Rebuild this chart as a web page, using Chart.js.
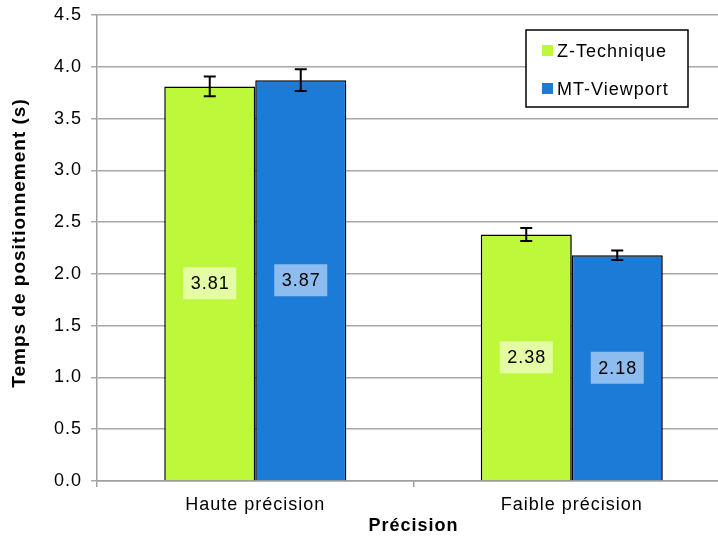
<!DOCTYPE html>
<html><head><meta charset="utf-8">
<script src="https://cdn.jsdelivr.net/npm/chart.js@4/dist/chart.umd.min.js"></script>
<style>html,body{margin:0;padding:0;overflow:hidden;background:#fff}#wrap{width:735px;height:541px}</style>
</head><body><div id="wrap"><canvas id="c" width="735" height="541"></canvas></div>
<script>
const categories = ["Haute précision", "Faible précision"];
const seriesNames = ["Z-Technique", "MT-Viewport"];
const zTechnique = [3.81, 2.38];
const mtViewport = [3.87, 2.18];
const zErr = [0.095, 0.062];
const mtErr = [0.105, 0.045];
const yTicks = [0, 0.5, 1, 1.5, 2, 2.5, 3, 3.5, 4, 4.5];
const yTitle = "Temps de positionnement (s)";
const colors = ["#bef83a", "#1d7bd8"];
const labelBg = ["#e4fca4", "#8dbcef"];
const errs = [zErr, mtErr];
const FONT = "'Liberation Sans', Arial, sans-serif";

const spacing = {
  id: 'spacing',
  beforeUpdate(c) { c.ctx.letterSpacing = '1px'; },
  beforeDraw(c) { c.ctx.letterSpacing = '1px'; }
};

const barExtras = {
  id: 'barExtras',
  beforeDatasetsDraw(chart) {
    const ctx = chart.ctx; ctx.save();
    ctx.shadowColor = 'rgba(0,0,0,0.25)'; ctx.shadowBlur = 4; ctx.shadowOffsetX = 2; ctx.shadowOffsetY = 2;
  },
  afterDatasetsDraw(chart) {
    const ctx = chart.ctx; ctx.restore();
    const y = chart.scales.y;
    ctx.save();
    chart.data.datasets.forEach((ds, di) => {
      const meta = chart.getDatasetMeta(di);
      meta.data.forEach((bar, i) => {
        const v = ds.data[i], e = errs[di][i];
        const yt = y.getPixelForValue(v + e), yb = y.getPixelForValue(v - e);
        ctx.strokeStyle = '#000'; ctx.lineWidth = 2;
        ctx.beginPath();
        ctx.moveTo(bar.x, yt); ctx.lineTo(bar.x, yb);
        ctx.moveTo(bar.x - 6, yt); ctx.lineTo(bar.x + 6, yt);
        ctx.moveTo(bar.x - 6, yb); ctx.lineTo(bar.x + 6, yb);
        ctx.stroke();
        const cy = (bar.y + bar.base) / 2;
        ctx.fillStyle = labelBg[di];
        ctx.fillRect(bar.x - 26.5, cy - 16, 53, 32);
        ctx.fillStyle = '#000'; ctx.font = '18px ' + FONT;
        ctx.textAlign = 'center'; ctx.textBaseline = 'middle';
        ctx.fillText(v.toFixed(2), bar.x + 0.5, cy + 1);
      });
    });
    const lx = 526, ly = 30, lw = 162, lh = 77;
    ctx.fillStyle = '#fff'; ctx.fillRect(lx, ly, lw, lh);
    ctx.strokeStyle = '#000'; ctx.lineWidth = 1.5; ctx.strokeRect(lx, ly, lw, lh);
    ctx.font = '18px ' + FONT; ctx.textAlign = 'left'; ctx.textBaseline = 'middle';
    chart.data.datasets.forEach((ds, di) => {
      const yy = ly + 22 + di * 38;
      ctx.fillStyle = ds.backgroundColor;
      ctx.fillRect(lx + 16, yy - 7, 11, 11);
      ctx.fillStyle = '#000';
      ctx.fillText(ds.label, lx + 31, yy);
    });
    ctx.translate(20, 243);
    ctx.rotate(-Math.PI / 2);
    ctx.font = 'bold 19px ' + FONT; ctx.textAlign = 'center'; ctx.textBaseline = 'middle';
    ctx.fillStyle = '#000';
    ctx.fillText(yTitle, 0, 0);
    ctx.restore();
  }
};

new Chart(document.getElementById('c'), {
  type: 'bar',
  data: {
    labels: categories,
    datasets: [
      { label: seriesNames[0], data: zTechnique, backgroundColor: colors[0], borderColor: '#000', borderWidth: 1.5, borderSkipped: 'bottom' },
      { label: seriesNames[1], data: mtViewport, backgroundColor: colors[1], borderColor: '#000', borderWidth: 1.5, borderSkipped: 'bottom' }
    ]
  },
  options: {
    responsive: false, animation: false, devicePixelRatio: 1,
    layout: { padding: { top: 15, left: 8, right: 5, bottom: 4 } },
    categoryPercentage: 0.575, barPercentage: 1.0,
    plugins: { legend: { display: false }, tooltip: { enabled: false } },
    scales: {
      x: {
        grid: { display: true, drawOnChartArea: false, offset: true, color: '#a0a0a0', lineWidth: 1.5, tickLength: 6 },
        border: { color: '#a0a0a0', width: 1.5 },
        ticks: { color: '#000', font: { family: FONT, size: 18 }, padding: 7 },
        title: { display: true, text: 'Précision', color: '#000', font: { family: FONT, size: 18, weight: 'bold' }, padding: { top: 0, bottom: 0 } },
        afterFit(s) { s.height = 56; }
      },
      y: {
        min: 0, max: 4.5,
        afterBuildTicks(s) { s.ticks = yTicks.map(v => ({ value: v })); },
        grid: { color: '#a8a8a8', lineWidth: 1.5, tickLength: 6 },
        border: { color: '#a0a0a0', width: 1.5 },
        ticks: { color: '#000', font: { family: FONT, size: 18 }, padding: 9, callback: v => v.toFixed(1) },
        title: { display: false, text: yTitle },
        afterFit(s) { s.width = 89; s.paddingTop = 0; s.paddingBottom = 0; }
      }
    }
  },
  plugins: [spacing, barExtras]
});
</script>
</body></html>
